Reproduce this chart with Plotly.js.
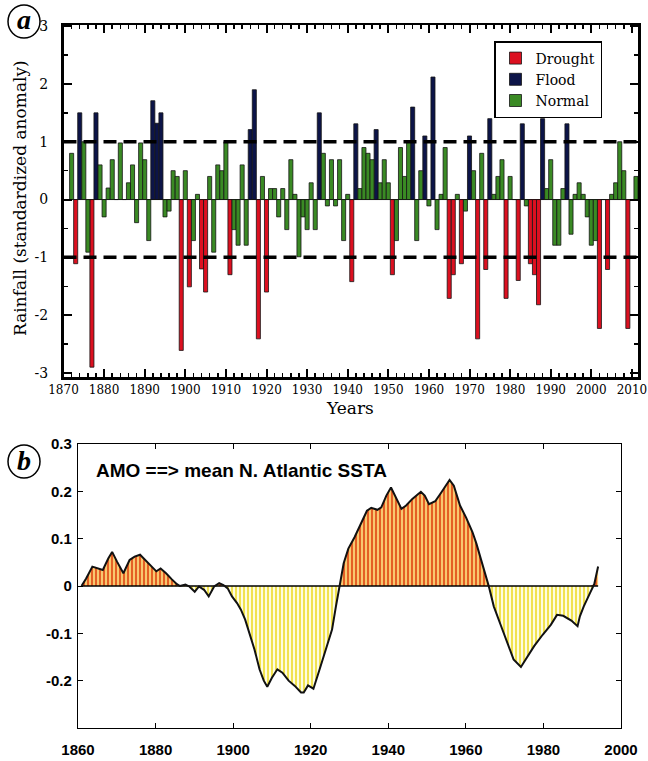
<!DOCTYPE html>
<html><head><meta charset="utf-8">
<script src="https://cdn.plot.ly/plotly-3.0.1.min.js"></script>
<style>html,body{margin:0;padding:0;background:#fff}#chart{width:648px;height:761px}</style>
</head><body><div id="chart"></div>
<script>
// ---------- Panel (a): all-India rainfall, standardized anomaly ----------
const startYear = 1872;
const rainfall = [
  0.80, -1.11, 1.50, 1.00, -0.91, -2.90, 1.50, 0.60, -0.30, 0.20,
  0.69, 0.00, 0.98, 0.00, 0.29, 0.60, -0.40, 0.98, 0.69, -0.71,
  1.71, 1.32, 1.50, -0.30, -0.20, 0.50, 0.40, -2.61, 0.50, -1.51,
  -0.71, 0.09, -1.20, -1.60, 0.40, -0.91, 0.60, 0.50, 1.00, -1.30,
  -0.52, -0.79, 0.60, -0.79, 1.21, 1.90, -2.41, 0.40, -1.60, 0.19,
  0.19, -0.30, 0.19, -0.52, 0.69, 0.09, -0.99, -0.30, -0.52, 0.29,
  -0.52, 1.50, 0.80, -0.11, 0.69, -0.11, 0.69, -0.71, 0.09, -1.42,
  1.31, 0.19, 0.90, 0.80, 0.69, 1.21, 0.29, 0.69, 0.29, -1.30,
  -0.71, 0.90, 0.40, 1.00, 1.60, -0.71, 0.50, 1.10, -0.11, 2.12,
  -0.52, 0.09, 0.90, -1.71, -1.30, 0.09, -1.11, -0.20, 1.10, 0.50,
  -2.41, 0.80, -1.21, 1.40, 0.09, 0.40, 0.69, -1.71, 0.40, 0.00,
  -1.40, 1.31, -0.11, -1.11, -1.30, -1.82, 1.40, 0.19, 0.69, -0.79,
  -0.79, 0.19, 1.31, -0.60, 0.09, 0.29, 0.09, -0.30, -0.79, -0.71,
  -2.23, 0.00, -1.21, 0.09, 0.29, 1.00, 0.50, -2.23, 0.00, 0.40
];
const droughtThreshold = -1;
const floodThreshold = 1;
const categoryNames = ['Drought', 'Flood', 'Normal'];
const categoryColors = ['#dc1020', '#0c1448', '#3a8a24'];
const rainYTickVals = [-3, -2, -1, 0, 1, 2, 3];
const rainYTickText = ['-3', '-2', '-1', '0', '1', '2', '3'];

// ---------- Panel (b): AMO, mean N. Atlantic SSTA ----------
const amoYears = [1860.9, 1862.1, 1863.7, 1865.0, 1866.4, 1867.8, 1868.8, 1870.1, 1871.7, 1873.3,
  1874.6, 1876.0, 1877.4, 1878.8, 1880.2, 1881.3, 1882.7, 1884.2, 1885.5, 1886.3,
  1887.7, 1888.7, 1890.1, 1891.2, 1892.5, 1893.7, 1895.1, 1896.4, 1897.5, 1898.6,
  1899.7, 1901.0, 1902.0, 1903.1, 1904.2, 1905.5, 1906.8, 1907.9, 1908.8, 1910.0,
  1911.4, 1912.7, 1914.3, 1915.9, 1917.5, 1918.2, 1919.3, 1920.7, 1922.3, 1923.9,
  1925.5, 1926.5, 1927.4, 1928.5, 1929.7, 1931.3, 1932.9, 1934.5, 1935.6, 1937.2,
  1938.2, 1939.5, 1940.7, 1942.0, 1943.4, 1944.6, 1946.2, 1948.4, 1949.4, 1950.5,
  1952.1, 1953.7, 1955.8, 1956.9, 1958.5, 1960.1, 1961.7, 1962.7, 1964.3, 1965.4,
  1965.9, 1967.2, 1969.1, 1970.7, 1972.3, 1974.2, 1975.5, 1977.6, 1979.8, 1981.9,
  1983.5, 1985.1, 1987.2, 1988.8, 1989.4, 1990.4, 1992.0, 1993.1, 1994.1];
const amoValues = [0, 0.016, 0.041, 0.037, 0.034, 0.058, 0.072, 0.051, 0.027, 0.055,
  0.062, 0.066, 0.055, 0.044, 0.031, 0.037, 0.027, 0.014, 0.004, 0,
  0.003, -0.001, -0.012, -0.001, -0.008, -0.022, -0.001, 0.006, 0.002, -0.005,
  -0.022, -0.036, -0.050, -0.071, -0.100, -0.134, -0.176, -0.200, -0.213, -0.194,
  -0.176, -0.183, -0.200, -0.211, -0.225, -0.225, -0.210, -0.217, -0.176, -0.134,
  -0.092, -0.043, 0, 0.048, 0.079, 0.103, 0.131, 0.159, 0.165, 0.161,
  0.166, 0.191, 0.208, 0.187, 0.163, 0.170, 0.184, 0.199, 0.191, 0.173,
  0.179, 0.198, 0.224, 0.212, 0.170, 0.144, 0.114, 0.090, 0.048, 0.014,
  0, -0.043, -0.085, -0.120, -0.155, -0.171, -0.155, -0.127, -0.103, -0.082,
  -0.061, -0.063, -0.073, -0.085, -0.064, -0.043, -0.015, 0.004, 0.041];
const amoXTickVals = [1860, 1880, 1900, 1920, 1940, 1960, 1980, 2000];
const amoYTickVals = [-0.2, -0.1, 0, 0.1, 0.2, 0.3];
const amoYTickText = ['-0.2', '-0.1', '0', '0.1', '0.2', '0.3'];

// ---------- Build traces ----------
const years = rainfall.map((_, i) => startYear + i);
const groups = categoryNames.map(() => ({ x: [], y: [] }));
rainfall.forEach((v, i) => {
  const g = v < droughtThreshold ? 0 : (v > floodThreshold ? 1 : 2);
  groups[g].x.push(years[i]);
  groups[g].y.push(v);
});
const traces = categoryNames.map((name, g) => ({
  type: 'bar', name: name, x: groups[g].x, y: groups[g].y,
  xaxis: 'x', yaxis: 'y', width: 1,
  marker: { color: categoryColors[g], line: { color: '#151515', width: 0.8 } },
  hoverinfo: 'x+y'
}));

const amoPos = amoValues.map(v => Math.max(v, 0));
const amoNeg = amoValues.map(v => Math.min(v, 0));
traces.push({
  type: 'scatter', mode: 'lines', x: amoYears, y: amoPos, xaxis: 'x2', yaxis: 'y2',
  fill: 'tozeroy', line: { width: 0, color: 'rgba(0,0,0,0)' }, showlegend: false,
  fillcolor: '#f6c36a',
  fillpattern: { shape: '|', fgcolor: '#e2541c', bgcolor: '#f8c870', size: 4, solidity: 0.45 }
});
traces.push({
  type: 'scatter', mode: 'lines', x: amoYears, y: amoNeg, xaxis: 'x2', yaxis: 'y2',
  fill: 'tozeroy', line: { width: 0, color: 'rgba(0,0,0,0)' }, showlegend: false,
  fillcolor: '#fbf6b8',
  fillpattern: { shape: '|', fgcolor: '#f0e040', bgcolor: '#fefce0', size: 4, solidity: 0.45 }
});
traces.push({
  type: 'scatter', mode: 'lines', x: [amoYears[0], amoYears[amoYears.length - 1]], y: [0, 0],
  xaxis: 'x2', yaxis: 'y2', line: { color: '#000', width: 1.5 }, showlegend: false, hoverinfo: 'skip'
});
traces.push({
  type: 'scatter', mode: 'lines', x: amoYears, y: amoValues, xaxis: 'x2', yaxis: 'y2',
  line: { color: '#111', width: 2 }, showlegend: false
});

const W = 648, H = 761;
const px = v => v / W;
const py = v => 1 - v / H;
const serif = 'DejaVu Serif, Liberation Serif, serif';
const sansB = 'Liberation Sans, Arial, sans-serif';

const layout = {
  width: W, height: H, margin: { l: 0, r: 0, t: 0, b: 0 },
  paper_bgcolor: '#fff', plot_bgcolor: '#fff',
  barmode: 'overlay', bargap: 0,
  showlegend: true,
  legend: {
    x: px(494), y: py(41), xanchor: 'left', yanchor: 'top',
    bgcolor: '#fff', bordercolor: '#000', borderwidth: 1.5,
    font: { family: serif, size: 14, color: '#000' }, tracegroupgap: 0
  },
  xaxis: {
    domain: [px(63.5), px(638)], anchor: 'y', range: [1870, 2011.5],
    tickmode: 'linear', tick0: 1870, dtick: 10,
    ticks: 'inside', ticklen: 8, tickwidth: 2, tickcolor: '#000',
    minor: { tickmode: 'linear', tick0: 1870, dtick: 2, ticks: 'inside', ticklen: 4, tickwidth: 1.5, tickcolor: '#000' },
    showline: true, linewidth: 2.5, linecolor: '#000', mirror: 'allticks',
    showgrid: false, zeroline: false, automargin: false, fixedrange: true,
    tickfont: { family: serif, size: 12, color: '#000' }, ticklabelstandoff: 0
  },
  yaxis: {
    domain: [py(377), py(25)], anchor: 'x', range: [-3.07, 3.02],
    tickmode: 'array', tickvals: rainYTickVals, ticktext: rainYTickText,
    ticks: 'inside', ticklen: 8, tickwidth: 2, tickcolor: '#000',
    minor: { tickmode: 'linear', tick0: -3, dtick: 0.5, ticks: 'inside', ticklen: 4, tickwidth: 1.5, tickcolor: '#000' },
    showline: true, linewidth: 2.5, linecolor: '#000', mirror: 'allticks',
    showgrid: false, zeroline: true, zerolinecolor: '#000', zerolinewidth: 1,
    automargin: false, fixedrange: true,
    tickfont: { family: serif, size: 14, color: '#000' }, ticklabelstandoff: 10
  },
  xaxis2: {
    domain: [px(78), px(621)], anchor: 'y2', range: [1860, 2000],
    tickmode: 'array', tickvals: amoXTickVals,
    ticks: 'inside', ticklen: 5, tickwidth: 1, tickcolor: '#000',
    showline: true, linewidth: 1.2, linecolor: '#000', mirror: 'allticks',
    showgrid: false, zeroline: false, automargin: false, fixedrange: true,
    tickfont: { family: sansB, size: 15, color: '#000', weight: 'bold' }, ticklabelstandoff: 8
  },
  yaxis2: {
    domain: [py(728), py(444)], anchor: 'x2', range: [-0.3, 0.3],
    tickmode: 'array', tickvals: amoYTickVals, ticktext: amoYTickText,
    ticks: 'inside', ticklen: 5, tickwidth: 1, tickcolor: '#000',
    showline: true, linewidth: 1.2, linecolor: '#000', mirror: 'allticks',
    showgrid: false, zeroline: false, automargin: false, fixedrange: true,
    tickfont: { family: sansB, size: 15, color: '#000', weight: 'bold' }, ticklabelstandoff: 2
  },
  shapes: [
    { type: 'line', xref: 'x domain', x0: 0, x1: 1, yref: 'y', y0: floodThreshold, y1: floodThreshold,
      line: { color: '#000', width: 3.5, dash: '13px,7px' } },
    { type: 'line', xref: 'x domain', x0: 0, x1: 1, yref: 'y', y0: droughtThreshold, y1: droughtThreshold,
      line: { color: '#000', width: 3.5, dash: '13px,7px' } },
    { type: 'circle', xref: 'paper', yref: 'paper', x0: px(8), x1: px(40), y0: py(38), y1: py(5),
      line: { color: '#000', width: 1.5 } },
    { type: 'circle', xref: 'paper', yref: 'paper', x0: px(8), x1: px(40), y0: py(478), y1: py(445),
      line: { color: '#000', width: 1.5 } }
  ],
  annotations: [
    { text: 'Rainfall (standardized anomaly)', xref: 'paper', yref: 'paper', x: px(20), y: py(198),
      textangle: -90, showarrow: false, xanchor: 'center', yanchor: 'middle',
      font: { family: serif, size: 17, color: '#000' } },
    { text: 'Years', xref: 'paper', yref: 'paper', x: px(350), y: py(408),
      showarrow: false, xanchor: 'center', yanchor: 'middle',
      font: { family: serif, size: 17, color: '#000' } },
    { text: 'AMO ==> mean N. Atlantic SSTA', xref: 'paper', yref: 'paper', x: px(94), y: py(471),
      showarrow: false, xanchor: 'left', yanchor: 'middle',
      font: { family: sansB, size: 19, color: '#000', weight: 'bold' } },
    { text: '<b><i>a</i></b>', xref: 'paper', yref: 'paper', x: px(24), y: py(20),
      showarrow: false, xanchor: 'center', yanchor: 'middle',
      font: { family: 'Liberation Serif, serif', size: 28, color: '#000' } },
    { text: '<b><i>b</i></b>', xref: 'paper', yref: 'paper', x: px(24), y: py(460),
      showarrow: false, xanchor: 'center', yanchor: 'middle',
      font: { family: 'Liberation Serif, serif', size: 28, color: '#000' } }
  ]
};

Plotly.newPlot('chart', traces, layout, { staticPlot: true, displayModeBar: false });
</script>
</body></html>
